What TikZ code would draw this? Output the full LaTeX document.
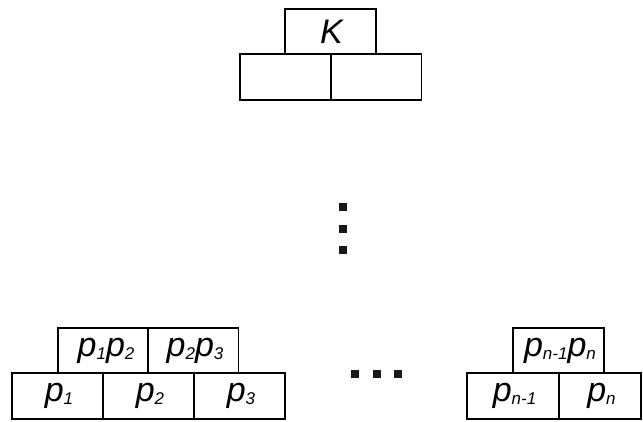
\documentclass[tikz,border=0pt]{standalone}
\usepackage{fontspec}
\setmainfont{Liberation Sans}
\newcommand{\sbs}[1]{\raisebox{-3pt}{\fontsize{17}{17}\selectfont #1}}
\begin{document}
\begin{tikzpicture}[x=1pt,y=-1pt,
  cell/.style={draw, line width=1.8pt, inner sep=0pt, minimum height=45.5pt, font=\fontsize{34}{36}\selectfont\itshape},
  w91/.style={minimum width=91pt},
  sq/.style={fill=black!90, draw=none, minimum size=8pt, inner sep=0pt}]
\useasboundingbox (0,0) rectangle (643,422);
% top
\node[cell,w91] (K) at (330.5,31.5) {\hspace{2pt}\raisebox{-2pt}{K}};
\node[cell,w91] (kl) at (285.5,77) {};
\node[cell,w91] (kr) at (376,77) {};
% vertical dots
\node[sq] (v1) at (343,207) {};
\node[sq] (v2) at (343,229) {};
\node[sq] (v3) at (343,250.5) {};
% left group
\node[cell,minimum width=90pt] (p12) at (103,350.5) {\hspace{6pt}p\sbs{1}p\sbs{2}};
\node[cell,minimum width=90pt] (p23) at (193.5,350.5) {\hspace{3pt}p\sbs{2}p\sbs{3}};
\node[cell,w91] (p1) at (57.5,396) {\hspace{3pt}p\sbs{1}};
\node[cell,w91] (p2) at (148.5,396) {\hspace{3pt}p\sbs{2}};
\node[cell,w91] (p3) at (239.5,396) {\hspace{3pt}p\sbs{3}};
% horizontal dots
\node[sq] (h1) at (355,374) {};
\node[sq] (h2) at (377,374) {};
\node[sq] (h3) at (398,374) {};
% right group
\node[cell,w91] (pnn) at (558.5,350.5) {\hspace{3pt}p\sbs{n-1}p\sbs{n}};
\node[cell,minimum width=92pt] (pn1) at (513,396) {\hspace{3pt}p\sbs{n-1}};
\node[cell,minimum width=82pt] (pn) at (600,396) {\hspace{3pt}p\sbs{n}};
\end{tikzpicture}
\end{document}
